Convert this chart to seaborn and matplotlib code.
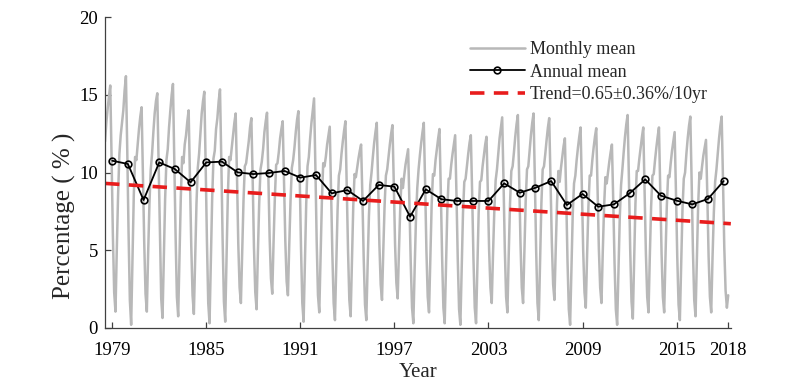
import numpy as np
import pandas as pd
import matplotlib
matplotlib.use("Agg")
import matplotlib.pyplot as plt
import seaborn as sns

# annual means
years = np.arange(1979, 2019)
annual_mean = [10.76, 10.55, 8.23, 10.65, 10.22, 9.37, 10.65, 10.70, 10.01, 9.90,
               9.97, 10.10, 9.67, 9.84, 8.66, 8.87, 8.17, 9.20, 9.09, 7.16,
               8.92, 8.28, 8.17, 8.17, 8.17, 9.30, 8.70, 9.02, 9.45, 7.91,
               8.62, 7.80, 7.95, 8.66, 9.56, 8.51, 8.19, 7.95, 8.30, 9.45]

# monthly means (Jan..Dec), one row per year
monthly = [
    [12.0, 13.2, 14.1, 14.9, 15.6, 11.0, 6.0, 2.3, 1.05, 5.0, 8.6, 11.2],
    [12.4, 13.2, 14.0, 15.3, 16.2, 11.5, 6.2, 1.8, 0.2, 4.2, 8.5, 11.0],
    [10.8, 11.8, 12.8, 13.6, 14.2, 10.0, 5.5, 2.2, 1.05, 4.8, 8.0, 10.2],
    [11.2, 12.6, 13.8, 14.6, 15.1, 10.6, 5.8, 1.9, 0.64, 4.5, 8.3, 10.8],
    [11.5, 12.9, 14.0, 15.0, 15.7, 11.0, 6.0, 2.0, 0.75, 4.6, 8.4, 11.0],
    [10.6, 11.8, 12.4, 13.3, 14.0, 9.8, 5.3, 2.1, 0.9, 4.6, 8.0, 10.3],
    [11.2, 12.5, 13.8, 14.6, 15.2, 10.6, 5.6, 1.6, 0.3, 4.2, 8.3, 10.9],
    [11.4, 12.8, 13.5, 14.6, 15.35, 10.8, 5.7, 1.7, 0.4, 4.4, 8.5, 11.0],
    [10.8, 11.6, 12.4, 13.2, 13.8, 9.8, 5.4, 2.6, 1.6, 5.0, 8.2, 10.4],
    [10.6, 11.3, 12.0, 12.9, 13.5, 9.6, 5.2, 2.3, 1.2, 4.8, 8.0, 10.2],
    [10.7, 11.5, 12.6, 13.3, 13.85, 9.9, 5.8, 3.2, 2.2, 5.5, 8.4, 10.5],
    [10.6, 11.3, 12.2, 12.8, 13.3, 9.6, 5.6, 3.0, 2.1, 5.3, 8.2, 10.3],
    [10.8, 11.6, 12.6, 13.4, 13.95, 9.8, 5.2, 1.6, 0.4, 4.2, 8.0, 10.4],
    [11.0, 12.2, 13.2, 14.0, 14.77, 10.4, 5.6, 2.1, 1.0, 4.6, 8.2, 10.6],
    [10.4, 11.0, 11.8, 12.4, 12.95, 9.0, 4.8, 1.6, 0.5, 4.2, 7.6, 9.8],
    [10.2, 11.2, 12.0, 12.7, 13.3, 9.3, 5.0, 1.8, 0.75, 4.4, 7.8, 9.9],
    [9.7, 10.3, 10.9, 11.4, 11.8, 8.4, 4.5, 1.5, 0.5, 4.0, 7.2, 9.2],
    [10.0, 11.0, 11.9, 12.6, 13.2, 9.5, 5.4, 2.8, 1.8, 5.0, 7.9, 9.8],
    [10.2, 11.0, 11.8, 12.5, 13.05, 9.4, 5.4, 2.9, 1.9, 5.0, 7.8, 9.6],
    [9.0, 9.8, 10.5, 11.0, 11.5, 8.0, 4.2, 1.3, 0.3, 3.8, 7.0, 9.0],
    [10.2, 11.1, 11.9, 12.6, 13.2, 9.3, 5.0, 2.0, 1.0, 4.6, 7.9, 9.9],
    [9.8, 10.8, 11.5, 12.2, 12.8, 8.9, 4.6, 1.3, 0.3, 4.0, 7.6, 9.6],
    [9.6, 10.5, 11.2, 11.8, 12.4, 8.6, 4.4, 1.2, 0.2, 3.9, 7.4, 9.4],
    [9.6, 10.4, 11.2, 11.9, 12.4, 8.7, 4.5, 1.3, 0.3, 4.0, 7.4, 9.4],
    [9.5, 10.4, 11.1, 11.8, 12.3, 8.8, 5.0, 2.6, 1.6, 4.8, 7.6, 9.5],
    [10.2, 11.2, 12.2, 12.9, 13.55, 9.5, 5.1, 2.0, 1.0, 4.7, 8.0, 10.1],
    [10.4, 11.3, 12.3, 13.1, 13.7, 9.7, 5.5, 2.6, 1.6, 5.0, 8.2, 10.2],
    [10.4, 11.4, 12.4, 13.2, 13.8, 9.6, 5.0, 1.6, 0.5, 4.3, 8.0, 10.2],
    [10.4, 11.2, 12.1, 12.9, 13.5, 9.6, 5.5, 2.8, 1.8, 5.1, 8.1, 10.1],
    [9.4, 10.3, 11.0, 11.7, 12.2, 8.5, 4.3, 1.2, 0.2, 3.9, 7.3, 9.3],
    [9.8, 10.8, 11.6, 12.3, 12.9, 9.1, 5.0, 2.3, 1.3, 4.7, 7.8, 9.8],
    [9.8, 10.8, 11.6, 12.3, 12.85, 9.1, 5.1, 2.6, 1.6, 4.9, 7.8, 9.7],
    [9.3, 10.0, 10.7, 11.3, 11.8, 8.2, 4.2, 1.2, 0.2, 3.8, 7.1, 9.2],
    [10.2, 11.3, 12.3, 13.1, 13.7, 9.6, 5.0, 1.7, 0.6, 4.4, 8.0, 10.1],
    [10.1, 10.9, 11.6, 12.3, 12.9, 9.0, 4.8, 2.0, 1.0, 4.6, 7.8, 9.8],
    [9.9, 10.8, 11.6, 12.3, 12.9, 9.0, 4.8, 2.0, 1.0, 4.6, 7.8, 9.8],
    [9.7, 10.6, 11.4, 12.0, 12.6, 8.8, 4.6, 1.5, 0.5, 4.2, 7.6, 9.6],
    [10.0, 11.2, 12.2, 13.0, 13.6, 9.5, 5.0, 1.8, 0.75, 4.4, 7.9, 10.0],
    [9.6, 10.4, 11.1, 11.6, 12.1, 8.6, 4.6, 2.0, 1.0, 4.5, 7.4, 9.4],
    [10.2, 11.2, 12.2, 13.0, 13.6, 9.6, 5.2, 2.4, 1.3, 2.1],
]

# linear trend as drawn (value at 1979 and change per decade)
trend_1979 = 9.27
trend_per_decade = -0.65
trend_label = "Trend=0.65\u00b10.36%/10yr"

tick_years = [1979, 1985, 1991, 1997, 2003, 2009, 2015, 2018]

# ---- build frames
mx, my = [], []
for yr, row in zip(years, monthly):
    for m, v in enumerate(row):
        mx.append(yr + (m - 5.5) / 12)
        my.append(v)
df_month = pd.DataFrame({"x": mx, "val": my})
df_year = pd.DataFrame({"x": years, "val": annual_mean})
x0, x1 = 1978.54, 2018.46
df_trend = pd.DataFrame({"x": [x0, x1]})
df_trend["val"] = trend_1979 + trend_per_decade / 10 * (df_trend["x"] - 1979)

sns.set_theme(style="ticks")
plt.rcParams["font.family"] = ["Liberation Serif", "DejaVu Serif"]

fig, ax = plt.subplots(figsize=(8.04, 3.89), dpi=100)
fig.subplots_adjust(left=0.1306, right=0.909, bottom=0.157, top=0.956)

sns.lineplot(data=df_month, x="x", y="val", ax=ax, color="#b8b8b8",
             lw=1.8, estimator=None, sort=False, label="Monthly mean")
sns.lineplot(data=df_year, x="x", y="val", ax=ax, color="black", lw=1.3,
             marker="o", markersize=4.8, markerfacecolor="none",
             markeredgecolor="black", markeredgewidth=1.2,
             estimator=None, label="Annual mean")
sns.lineplot(data=df_trend, x="x", y="val", ax=ax, color="#e81c1c", lw=2.6,
             dashes=False, estimator=None, label=trend_label)
ax.lines[-1].set_dashes([4, 2.6])

ax.set_xlim(x0, x1)
ax.set_ylim(0, 20)
ax.set_yticks([0, 5, 10, 15, 20])
ax.set_xticks([t if t != 2018 else 2018.3 for t in tick_years])
ax.set_xticklabels([str(t) for t in tick_years])

sns.despine(ax=ax)
for s in ["left", "bottom"]:
    ax.spines[s].set_color("#404040")
    ax.spines[s].set_linewidth(0.9)
ax.tick_params(direction="in", length=4, width=0.9, color="#404040",
               labelsize=13.5, labelcolor="black")
ax.tick_params(axis="x", pad=10)
ax.tick_params(axis="y", pad=5)

ax.set_xlabel("Year", fontsize=15, labelpad=3)
ax.set_ylabel("Percentage ( % )", fontsize=18)
ax.yaxis.set_label_coords(-0.046, 0.36)

leg = ax.legend(loc="upper left", bbox_to_anchor=(0.578, 0.935), frameon=False,
                fontsize=13, handlelength=3.0, handletextpad=0.3,
                labelspacing=0.31, borderaxespad=0, borderpad=0.2)

fig.savefig("out.png", dpi=100)
